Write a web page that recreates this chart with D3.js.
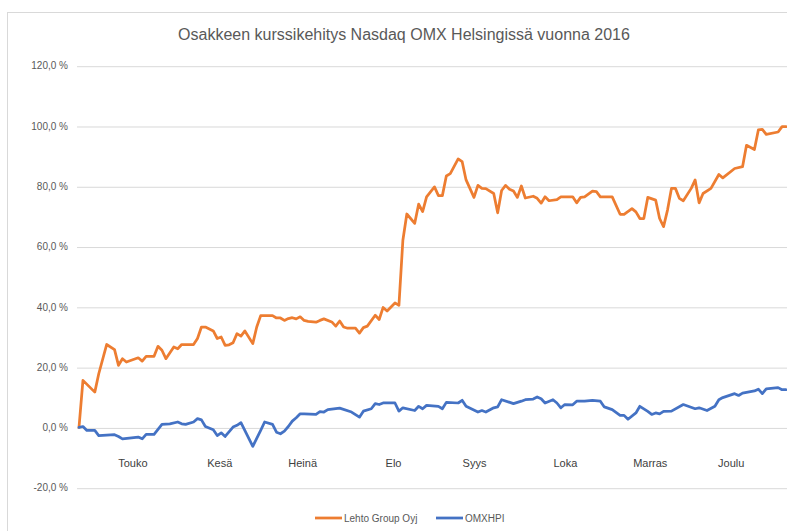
<!DOCTYPE html>
<html>
<head>
<meta charset="utf-8">
<script src="https://cdn.jsdelivr.net/npm/d3@7/dist/d3.min.js"></script>
<style>
body { margin: 0; background: #ffffff; }
text { font-family: "Liberation Sans", Arial, sans-serif; }
</style>
</head>
<body>
<svg id="chart" width="787" height="531"></svg>
<script>
// chart data: x is the trading day (0 = first day), y is the change in percent
var chartTitle = "Osakkeen kurssikehitys Nasdaq OMX Helsingissä vuonna 2016";
var seriesNames = ["Lehto Group Oyj", "OMXHPI"];
var dayCount = 180;

var lehtoDays = [0, 1, 4, 5, 7, 9, 10, 11, 12, 15, 16, 17, 19, 20, 21, 22, 24, 25, 26, 29,
    30, 31, 32, 34, 35, 36, 37, 38, 39, 40, 41, 42, 44, 45, 46, 49, 50, 51, 52, 53,
    54, 55, 56, 57, 58, 60, 61, 62, 64, 65, 66, 67, 68, 70, 71, 72, 73, 75, 76, 77,
    78, 80, 81, 82, 83, 85, 86, 87, 88, 90, 91, 92, 93, 94, 96, 97, 98, 100, 101, 102,
    103, 105, 106, 107, 108, 109, 110, 111, 112, 113, 115, 116, 117, 118, 119, 121, 122, 125, 126, 127,
    128, 130, 131, 132, 135, 137, 138, 140, 141, 142, 143, 144, 146, 147, 148, 149, 150, 151, 152, 153,
    155, 156, 157, 158, 160, 162, 163, 166, 168, 169, 171, 172, 173, 174, 177, 178, 179];
var lehtoValues = [0, 15.6, 11.7, 17.8, 27.5, 25.8, 20.6, 22.8, 21.7, 23.1, 22.0, 23.6, 23.6, 26.9, 25.6, 22.8, 26.7, 26.1, 27.5, 27.5,
    29.5, 33.3, 33.3, 32.0, 29.5, 30.0, 27.2, 27.4, 28.1, 31.1, 30.3, 32.0, 27.8, 33.3, 37.1, 37.1, 36.3, 36.3, 35.5, 36.1,
    36.4, 36.0, 36.7, 35.5, 35.2, 34.9, 35.5, 36.0, 35.0, 33.6, 35.3, 33.3, 32.9, 32.9, 31.3, 33.1, 33.6, 37.2, 35.8, 39.8,
    38.6, 41.3, 40.5, 62.1, 70.8, 67.7, 74.1, 71.6, 76.5, 79.8, 76.9, 76.9, 83.4, 84.2, 89.1, 88.2, 82.1, 76.3, 80.3, 79.3,
    79.2, 77.6, 71.2, 78.6, 80.3, 79.0, 78.4, 76.3, 80.1, 76.1, 76.7, 76.0, 74.4, 76.5, 75.2, 75.6, 76.5, 76.5, 74.5, 76.3,
    76.5, 78.4, 78.2, 76.5, 76.5, 70.7, 70.7, 72.6, 71.5, 69.3, 69.3, 76.3, 75.4, 69.3, 66.6, 72.1, 79.3, 79.3, 76.0, 75.2,
    79.3, 82.1, 74.5, 77.6, 79.3, 83.9, 82.8, 85.9, 86.5, 93.6, 92.2, 98.7, 98.9, 97.2, 98.0, 99.8, 99.8];

var omxDays = [0, 1, 2, 4, 5, 9, 10, 11, 15, 16, 17, 19, 21, 23, 25, 26, 27, 29, 30, 31,
    32, 34, 35, 36, 37, 39, 40, 41, 44, 46, 47, 49, 50, 51, 52, 53, 54, 55, 56, 57,
    60, 61, 62, 63, 66, 69, 71, 72, 74, 75, 76, 77, 80, 81, 82, 85, 86, 87, 88, 91,
    92, 93, 96, 97, 98, 101, 102, 103, 105, 106, 107, 110, 112, 113, 115, 116, 117, 118, 120, 121,
    122, 123, 125, 126, 128, 130, 132, 133, 135, 137, 138, 139, 141, 142, 144, 145, 146, 147, 148, 150,
    153, 156, 157, 159, 161, 162, 163, 166, 167, 168, 171, 172, 173, 174, 177, 178, 179];
var omxValues = [0, 0.3, -1.0, -1.0, -2.7, -2.4, -3.0, -3.8, -3.2, -3.8, -2.3, -2.3, 1.0, 1.2, 1.8, 1.2, 1.0, 1.8, 2.9, 2.5,
    0.3, -0.8, -2.7, -1.8, -3.0, 0.1, 0.7, 1.6, -6.3, -1.0, 1.8, 1.0, -1.6, -2.1, -1.2, 0.3, 2.1, 3.2, 4.5, 4.5,
    4.3, 5.2, 5.1, 5.9, 6.4, 5.1, 3.4, 5.4, 6.2, 7.9, 7.6, 8.1, 8.1, 5.4, 6.5, 5.6, 7.0, 6.2, 7.3, 7.0,
    6.2, 8.3, 8.1, 9.0, 7.0, 5.1, 5.6, 5.1, 6.5, 6.8, 9.2, 7.9, 8.7, 9.2, 9.4, 10.1, 9.5, 8.1, 9.2, 8.1,
    6.5, 7.6, 7.5, 8.7, 8.7, 9.0, 8.7, 6.8, 5.9, 4.0, 4.0, 2.7, 4.8, 7.0, 5.3, 4.3, 4.8, 4.5, 5.3, 5.4,
    7.6, 6.2, 6.5, 5.6, 7.0, 9.2, 9.9, 11.2, 10.6, 11.4, 12.1, 12.7, 11.2, 12.8, 13.2, 12.5, 12.5];

// month labels and the trading day in the middle of each month
var monthNames = ["Touko", "Kesä", "Heinä", "Elo", "Syys", "Loka", "Marras", "Joulu"];
var monthDays = [13.5, 35.5, 56.5, 79.5, 100, 123, 144.5, 165];

var yTicks = [-20, 0, 20, 40, 60, 80, 100, 120];

var colors = ["#ED7D31", "#4472C4"];

var svg = d3.select("#chart");

// scales
var x = d3.scaleLinear()
    .domain([0, dayCount - 1])
    .range([79, 786]);

var y = d3.scaleLinear()
    .domain([-20, 120])
    .range([487.7, 65.7]);

// format 20 -> "20,0 %"
function formatPercent(d) {
    return d3.format(".1f")(d).replace(".", ",").replace("−", "-") + " %";
};

// outer border of the chart
function drawBorder() {
    svg.append("rect")
        .attr("x", 7.5)
        .attr("y", 12.5)
        .attr("width", 900)
        .attr("height", 700)
        .attr("fill", "none")
        .attr("stroke", "#D9D9D9")
        .attr("stroke-width", 1);
};

// title on top
function drawTitle() {
    svg.append("text")
        .attr("x", 404)
        .attr("y", 40)
        .attr("text-anchor", "middle")
        .style("font-size", "16px")
        .style("fill", "#595959")
        .text(chartTitle);
};

// gridlines and y labels
function drawYAxis() {
    var yAxis = d3.axisLeft(y)
        .tickValues(yTicks)
        .tickSize(-(800 - 77))
        .tickPadding(9)
        .tickFormat(formatPercent);

    var g = svg.append("g")
        .attr("class", "y axis")
        .attr("transform", "translate(77,0)")
        .call(yAxis);

    g.select(".domain").remove();

    g.selectAll(".tick line")
        .attr("stroke", "#D9D9D9")
        .attr("stroke-width", 1)
        .attr("transform", "translate(0,0.5)");

    g.selectAll(".tick text")
        .attr("x", -9)
        .style("font-size", "10px")
        .style("fill", "#595959")
        .style("font-family", "Liberation Sans, Arial, sans-serif");
};

// month labels under the chart
function drawXAxis() {
    var xAxis = d3.axisBottom(x)
        .tickValues(monthDays)
        .tickSize(0)
        .tickPadding(0)
        .tickFormat(function(d, i) { return monthNames[i]; });

    var g = svg.append("g")
        .attr("class", "x axis")
        .attr("transform", "translate(0,459)")
        .call(xAxis);

    g.select(".domain").remove();

    g.selectAll(".tick text")
        .style("font-size", "11px")
        .style("fill", "#404040")
        .style("font-family", "Liberation Sans, Arial, sans-serif");
};

// one line per series
function drawLine(days, values, color) {
    var points = days.map(function(d, i) { return [d, values[i]]; });

    var line = d3.line()
        .x(function(d) { return x(d[0]); })
        .y(function(d) { return y(d[1]); });

    svg.append("path")
        .datum(points)
        .attr("d", line)
        .attr("fill", "none")
        .attr("stroke", color)
        .attr("stroke-width", 2.75)
        .attr("stroke-linejoin", "round")
        .attr("stroke-linecap", "round");
};

// legend at the bottom
function drawLegend() {
    var legendX = [315, 436];

    var items = svg.selectAll(".legend")
        .data(seriesNames)
        .enter().append("g")
        .attr("class", "legend")
        .attr("transform", function(d, i) { return "translate(" + legendX[i] + ",518)"; });

    items.append("line")
        .attr("x1", 0)
        .attr("x2", 27)
        .attr("y1", 0)
        .attr("y2", 0)
        .attr("stroke", function(d, i) { return colors[i]; })
        .attr("stroke-width", 2.75);

    items.append("text")
        .attr("x", 29)
        .attr("y", 3.5)
        .style("font-size", "10px")
        .style("fill", "#595959")
        .text(function(d) { return d; });
};

drawBorder();
drawTitle();
drawYAxis();
drawXAxis();
drawLine(lehtoDays, lehtoValues, colors[0]);
drawLine(omxDays, omxValues, colors[1]);
drawLegend();
</script>
</body>
</html>
